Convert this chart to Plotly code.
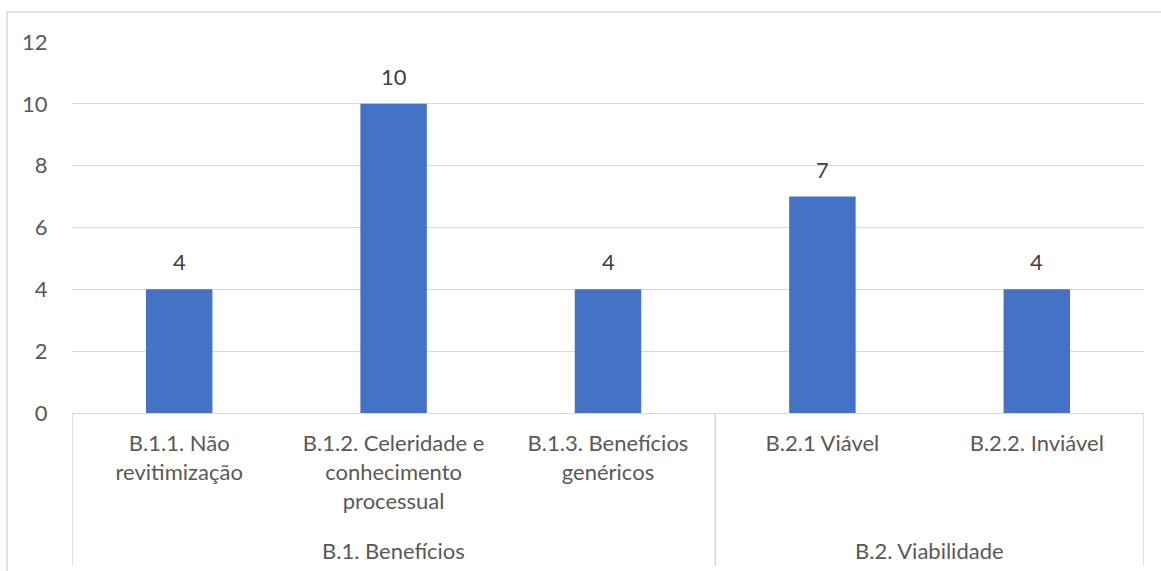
import plotly.graph_objects as go

# Data
categories = [
    "B.1.1. Não<br>revitimização",
    "B.1.2. Celeridade e<br>conhecimento<br>processual",
    "B.1.3. Benefícios<br>genéricos",
    "B.2.1 Viável",
    "B.2.2. Inviável",
]
values = [4, 10, 4, 7, 4]
groups = ["B.1. Benefícios", "B.2. Viabilidade"]
group_sizes = [3, 2]
y_ticks = [0, 2, 4, 6, 8, 10, 12]

BAR = "#4472C4"
TEXT = "#595959"
LABEL = "#404040"
GRID = "#D9D9D9"
FONT = "Lato, Open Sans, sans-serif"
FS = 22

W, H = 1161, 571
L, R, T, B = 72, 17, 42, 158

xs = list(range(len(categories)))

fig = go.Figure(
    go.Bar(
        x=xs,
        y=values,
        marker_color=BAR,
        marker_line_width=0,
        hoverinfo="x+y",
    )
)

# Value labels above each bar
for xi, v in zip(xs, values):
    fig.add_annotation(
        x=xi, y=v, xref="x", yref="y",
        text=str(v), showarrow=False,
        yanchor="bottom", yshift=12,
        font=dict(size=FS, color=LABEL, family=FONT),
    )

fig.update_layout(
    width=W,
    height=H,
    margin=dict(l=L, r=R, t=T, b=B),
    paper_bgcolor="white",
    plot_bgcolor="white",
    bargap=0.69,
    showlegend=False,
    font=dict(family=FONT, color=TEXT, size=FS),
)

fig.update_xaxes(
    tickmode="array",
    tickvals=xs,
    ticktext=categories,
    range=[-0.5, len(categories) - 0.5],
    ticks="outside",
    ticklen=11,
    tickcolor="rgba(0,0,0,0)",
    tickfont=dict(size=FS, color=TEXT, family=FONT),
    showline=True,
    linecolor=GRID,
    linewidth=1,
    showgrid=False,
    zeroline=False,
)

fig.update_yaxes(
    range=[0, 12],
    tickvals=y_ticks,
    ticks="outside",
    ticklen=19,
    tickcolor="rgba(0,0,0,0)",
    tickfont=dict(size=FS, color=TEXT, family=FONT),
    showgrid=True,
    gridcolor=GRID,
    gridwidth=1,
    zeroline=False,
    showline=False,
)

# Group separators and group labels below the category labels
plot_h = H - T - B
bottom = -(H - T - plot_h - 5) / plot_h
shapes = []
start = 0
boundaries = [-0.5]
for name, n in zip(groups, group_sizes):
    end = start + n
    boundaries.append(end - 0.5)
    fig.add_annotation(
        x=(start + end - 1) / 2,
        xref="x",
        y=-(550 - (T + plot_h)) / plot_h,
        yref="paper",
        text=name,
        showarrow=False,
        yanchor="middle",
        font=dict(size=FS, color=TEXT, family=FONT),
    )
    start = end

for bx in boundaries:
    shapes.append(dict(
        type="line", xref="x", yref="paper",
        x0=bx, x1=bx, y0=0, y1=bottom,
        line=dict(color=GRID, width=1.5),
    ))

# Chart frame
shapes.append(dict(
    type="rect", xref="paper", yref="paper",
    x0=-(L - 7) / (W - L - R), x1=(W - L + 5) / (W - L - R),
    y0=-(H - T - plot_h + 10) / plot_h, y1=1 + (T - 12) / plot_h,
    line=dict(color=GRID, width=1.5),
    layer="below",
))
fig.update_layout(shapes=shapes)

fig.write_html("out.html")
